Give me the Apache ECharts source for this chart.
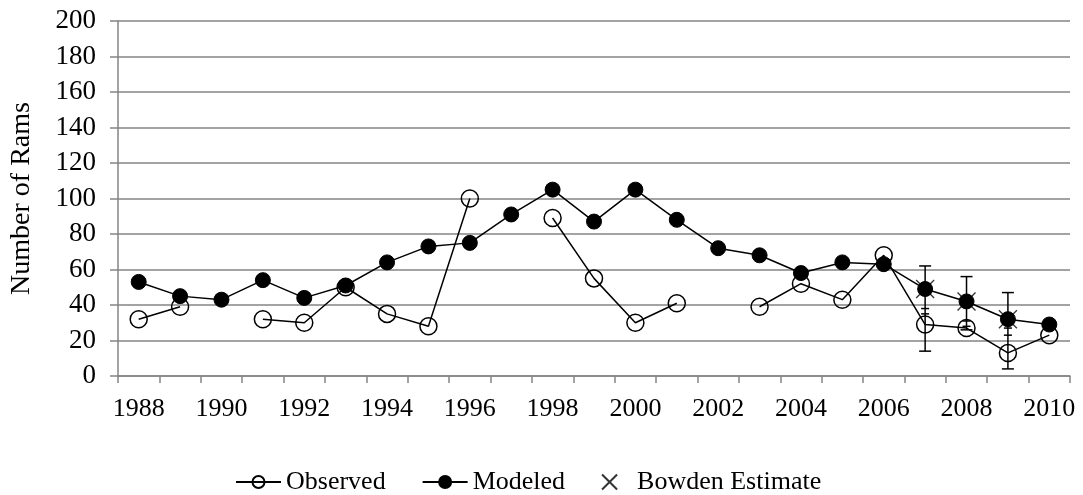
<!DOCTYPE html>
<html>
<head>
<meta charset="utf-8">
<script src="https://cdn.jsdelivr.net/npm/echarts@6/dist/echarts.min.js"></script>
<style>
  html, body { margin: 0; padding: 0; background: #fff; }
  #chart { width: 1083px; height: 495px; }
</style>
</head>
<body>
<div id="chart"></div>
<script>
// Ram counts by year
const years = ['1988','1989','1990','1991','1992','1993','1994','1995','1996','1997','1998','1999',
               '2000','2001','2002','2003','2004','2005','2006','2007','2008','2009','2010'];
const observed = [32, 39, null, 32, 30, 50, 35, 28, 100, null, 89, 55,
                  30, 41, null, 39, 52, 43, 68, 29, 27, 13, 23];
const modeled  = [53, 45, 43, 54, 44, 51, 64, 73, 75, 91, 105, 87,
                  105, 88, 72, 68, 58, 64, 63, 49, 42, 32, 29];

// Bowden estimates with interval bounds
const bowdenYears = ['2007', '2008', '2009'];
const bowdenEst   = [49, 42, 32];
const bowdenLow   = [14, 26, 4];
const bowdenHigh  = [62, 56, 47];
const innerCapHigh = [38, 31, 27];
const innerCapLow  = [35, 28, 23];

const yTicks = { min: 0, max: 200, interval: 20 };

const FONT = '"Liberation Serif", "Times New Roman", serif';
const GRID_GRAY = '#858585';

const bowdenPoints = bowdenYears.map((y, i) => [years.indexOf(y), bowdenEst[i]]);
const bowdenBars = bowdenYears.map((y, i) =>
  [years.indexOf(y), bowdenLow[i], bowdenHigh[i], innerCapLow[i], innerCapHigh[i]]);

const chart = echarts.init(document.getElementById('chart'), null, { renderer: 'canvas' });

function hLine(cx, cy, half) {
  return { type: 'line', shape: { x1: cx - half, y1: cy, x2: cx + half, y2: cy },
           style: { stroke: '#000', lineWidth: 1.5 } };
}

chart.setOption({
  animation: false,
  backgroundColor: '#fff',
  textStyle: { fontFamily: FONT, color: '#000' },
  grid: { left: 118, right: 13, top: 21, bottom: 119, containLabel: false, outerBoundsMode: 'none' },
  legend: {
    left: 230, top: 464,
    itemWidth: 45, itemHeight: 15, itemGap: 36,
    textStyle: { fontFamily: FONT, fontSize: 26, color: '#000' },
    data: ['Observed', 'Modeled', 'Bowden Estimate']
  },
  xAxis: {
    type: 'category',
    data: years,
    boundaryGap: true,
    axisLine: { lineStyle: { color: GRID_GRAY, width: 1.5 } },
    axisTick: { show: true, interval: 0, alignWithLabel: false, length: 7,
                lineStyle: { color: GRID_GRAY, width: 1.5 } },
    axisLabel: { interval: 1, fontFamily: FONT, fontSize: 26, color: '#000', margin: 20 },
    splitLine: { show: false }
  },
  yAxis: {
    type: 'value',
    min: yTicks.min, max: yTicks.max, interval: yTicks.interval,
    name: 'Number of Rams',
    nameLocation: 'middle',
    nameGap: 82,
    nameRotate: 90,
    nameTextStyle: { fontFamily: FONT, fontSize: 28, color: '#000' },
    axisLine: { show: true, lineStyle: { color: GRID_GRAY, width: 1.5 } },
    axisTick: { show: true, length: 8, lineStyle: { color: GRID_GRAY, width: 1.5 } },
    axisLabel: { fontFamily: FONT, fontSize: 27, color: '#000', margin: 22 },
    splitLine: { show: true, lineStyle: { color: GRID_GRAY, width: 1.5 } }
  },
  series: [
    {
      name: 'Bowden interval',
      type: 'custom',
      z: 1,
      data: bowdenBars,
      renderItem: function (params, api) {
        const idx = api.value(0);
        const lo = api.coord([idx, api.value(1)]);
        const hi = api.coord([idx, api.value(2)]);
        const a = api.coord([idx, api.value(3)]);
        const b = api.coord([idx, api.value(4)]);
        const cx = lo[0];
        return {
          type: 'group',
          children: [
            { type: 'line', shape: { x1: cx, y1: lo[1], x2: cx, y2: hi[1] },
              style: { stroke: '#000', lineWidth: 1.5 } },
            hLine(cx, lo[1], 6),
            hLine(cx, hi[1], 6),
            hLine(cx, a[1], 4),
            hLine(cx, b[1], 4)
          ]
        };
      }
    },
    {
      name: 'Bowden Estimate',
      type: 'scatter',
      z: 2,
      symbol: 'path://M0,0L10,10M10,0L0,10',
      symbolSize: 18,
      itemStyle: { color: 'rgba(0,0,0,0)', borderColor: '#000', borderWidth: 1.3 },
      data: bowdenPoints
    },
    {
      name: 'Observed',
      type: 'line',
      z: 3,
      data: observed,
      connectNulls: false,
      symbol: 'circle',
      symbolSize: 17,
      showAllSymbol: true,
      lineStyle: { color: '#000', width: 1.5 },
      itemStyle: { color: 'rgba(0,0,0,0)', borderColor: '#000', borderWidth: 1.5 }
    },
    {
      name: 'Modeled',
      type: 'line',
      z: 4,
      data: modeled,
      symbol: 'circle',
      symbolSize: 15,
      showAllSymbol: true,
      lineStyle: { color: '#000', width: 1.5 },
      itemStyle: { color: '#000', borderColor: '#000', borderWidth: 1 }
    }
  ]
});
</script>
</body>
</html>
